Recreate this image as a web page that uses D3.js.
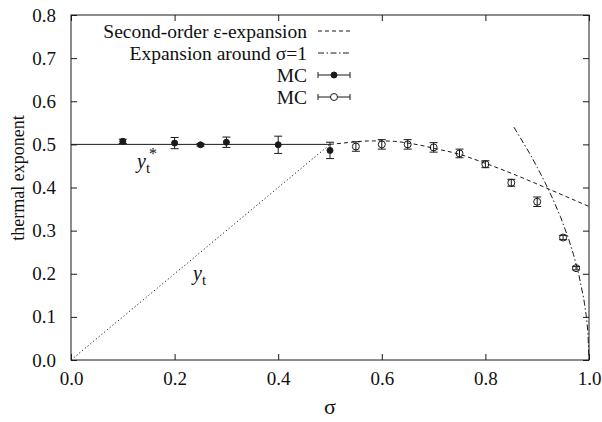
<!DOCTYPE html>
<html><head><meta charset="utf-8">
<script src="https://cdn.jsdelivr.net/npm/d3@7"></script>
<style>
body{margin:0;background:#fff;}
text{font-family:"Liberation Serif","Times New Roman",serif;fill:#111;}
</style></head>
<body><svg id="c" width="602" height="422"></svg>
<script>
// ---- data ----
const sigmaFilled = [0.1, 0.2, 0.25, 0.3, 0.4, 0.5];
const ytFilled    = [0.507, 0.503, 0.499, 0.505, 0.499, 0.486];
const errFilled   = [0.005, 0.013, 0.003, 0.012, 0.02, 0.019];

const sigmaOpen = [0.55, 0.6, 0.65, 0.7, 0.75, 0.8, 0.85, 0.9, 0.95, 0.975];
const ytOpen    = [0.495, 0.500, 0.500, 0.493, 0.479, 0.454, 0.411, 0.367, 0.284, 0.213];
const errOpen   = [0.011, 0.011, 0.011, 0.011, 0.01, 0.008, 0.008, 0.011, 0.005, 0.004];

const sigmaEps = [0.5, 0.525, 0.55, 0.575, 0.6, 0.625, 0.65, 0.675, 0.7, 0.75, 0.8, 0.85, 0.9, 0.95, 1.0];
const ytEps    = [0.5, 0.503, 0.506, 0.508, 0.508, 0.507, 0.503, 0.498, 0.491, 0.477, 0.456, 0.433, 0.408, 0.382, 0.356];

const sigmaOne = [0.855, 0.87, 0.885, 0.9, 0.915, 0.93, 0.945, 0.96, 0.97, 0.98, 0.99, 0.995, 0.998, 1.0];
const ytOne    = [0.54, 0.51, 0.48, 0.447, 0.412, 0.374, 0.332, 0.283, 0.245, 0.2, 0.141, 0.1, 0.063, 0.0];

const sigmaMF = [0, 0.5];
const ytMF    = [0, 0.5];
const sigmaStar = [0, 0.5];
const ytStar    = [0.5, 0.5];

const xTicks = [0, 0.2, 0.4, 0.6, 0.8, 1.0];
const yTicks = [0, 0.1, 0.2, 0.3, 0.4, 0.5, 0.6, 0.7, 0.8];
const legendLabels = ["Second-order \u03b5-expansion", "Expansion around \u03c3=1", "MC", "MC"];

// ---- layout ----
const FONT = '"Liberation Serif","Times New Roman",serif';
const L = 71, R = 589, T = 15, B = 360;
const svg = d3.select("#c");
const x = d3.scaleLinear().domain([0, 1]).range([L, R]);
const y = d3.scaleLinear().domain([0, 0.8]).range([B, T]);
const ink = "#1a1a1a";

// frame
svg.append("rect").attr("x", L).attr("y", T).attr("width", R - L).attr("height", B - T)
  .attr("fill", "none").attr("stroke", ink).attr("stroke-width", 1);

const fmt = d3.format(".1f");
const gx = svg.append("g").attr("transform", `translate(0,${B})`)
  .call(d3.axisBottom(x).tickValues(xTicks).tickFormat(fmt).tickSizeInner(-6).tickSizeOuter(0).tickPadding(12));
const gy = svg.append("g").attr("transform", `translate(${L},0)`)
  .call(d3.axisLeft(y).tickValues(yTicks).tickFormat(fmt).tickSizeInner(-6).tickSizeOuter(0).tickPadding(15));
const gt = svg.append("g").attr("transform", `translate(0,${T})`)
  .call(d3.axisTop(x).tickValues(xTicks).tickFormat("").tickSizeInner(-6).tickSizeOuter(0));
const gr = svg.append("g").attr("transform", `translate(${R},0)`)
  .call(d3.axisRight(y).tickValues(yTicks).tickFormat("").tickSizeInner(-6).tickSizeOuter(0));
[gx, gy, gt, gr].forEach(g => {
  g.attr("font-family", FONT);
  g.select(".domain").remove();
  g.selectAll(".tick line").attr("stroke", ink);
  g.selectAll(".tick text").style("font-size", "19px").attr("fill", "#111");
});

// axis titles
svg.append("text").attr("x", x(0.5)).attr("y", 414).attr("text-anchor", "middle")
  .style("font-size", "22px").text("\u03c3");
svg.append("text").attr("transform", `translate(24,178) rotate(-90)`)
  .attr("text-anchor", "middle").style("font-size", "18px").text("thermal exponent");

// lines
const line = d3.line().x(d => x(d[0])).y(d => y(d[1]));
const line2 = d3.line().curve(d3.curveMonotoneX).x(d => x(d[0])).y(d => y(d[1]));
const zip = (a, b) => a.map((v, i) => [v, b[i]]);

svg.append("path").attr("d", line(zip(sigmaStar, ytStar))).attr("fill", "none").attr("stroke", ink).attr("stroke-width", 1);
svg.append("path").attr("d", line(zip(sigmaMF, ytMF))).attr("fill", "none").attr("stroke", ink)
  .attr("stroke-width", 1).attr("stroke-dasharray", "1.2,2.4");
svg.append("path").attr("d", line2(zip(sigmaEps, ytEps))).attr("fill", "none").attr("stroke", ink)
  .attr("stroke-width", 1).attr("stroke-dasharray", "4,3");
svg.append("path").attr("d", line(zip(sigmaOne, ytOne))).attr("fill", "none").attr("stroke", ink)
  .attr("stroke-width", 1).attr("stroke-dasharray", "6,2.5,1.5,2.5");

// error bars + markers
function drawPoints(xs, ys, es, filled) {
  const g = svg.append("g");
  const d = xs.map((v, i) => ({ s: v, v: ys[i], e: es[i] }));
  const cap = 4;
  g.selectAll("path.eb").data(d).join("path")
    .attr("d", p => `M${x(p.s)},${y(p.v - p.e)}V${y(p.v + p.e)}M${x(p.s) - cap},${y(p.v - p.e)}H${x(p.s) + cap}M${x(p.s) - cap},${y(p.v + p.e)}H${x(p.s) + cap}`)
    .attr("stroke", ink).attr("stroke-width", 1).attr("fill", "none");
  g.selectAll("circle").data(d).join("circle")
    .attr("cx", p => x(p.s)).attr("cy", p => y(p.v)).attr("r", filled ? 3 : 3.5)
    .attr("fill", filled ? ink : "none").attr("stroke", ink).attr("stroke-width", 1);
}
drawPoints(sigmaFilled, ytFilled, errFilled, true);
drawPoints(sigmaOpen, ytOpen, errOpen, false);

// annotations
const ys = svg.append("text").attr("x", 137).attr("y", 168).style("font-size", "20px");
ys.append("tspan").style("font-style", "italic").text("y");
ys.append("tspan").attr("dy", 5).style("font-size", "15px").text("t");
ys.append("tspan").attr("dx", -1).attr("dy", -14).style("font-size", "16px").text("*");
const yt = svg.append("text").attr("x", 193).attr("y", 280).style("font-size", "20px");
yt.append("tspan").style("font-style", "italic").text("y");
yt.append("tspan").attr("dy", 5).style("font-size", "15px").text("t");

// legend
const legY = [31, 53, 75, 97];
const tx = 307, s0 = 318, s1 = 350;
legendLabels.forEach((lab, i) => {
  svg.append("text").attr("x", tx).attr("y", legY[i]).attr("dy", "0.35em").attr("text-anchor", "end")
    .style("font-size", "19.5px").text(lab);
});
svg.append("line").attr("x1", s0).attr("x2", s1).attr("y1", legY[0]).attr("y2", legY[0])
  .attr("stroke", ink).attr("stroke-dasharray", "4,3");
svg.append("line").attr("x1", s0).attr("x2", s1).attr("y1", legY[1]).attr("y2", legY[1])
  .attr("stroke", ink).attr("stroke-dasharray", "6,2.5,1.5,2.5");
[2, 3].forEach(i => {
  const yy = legY[i];
  svg.append("path").attr("d", `M${s0},${yy}H${s1}M${s0},${yy - 3}V${yy + 3}M${s1},${yy - 3}V${yy + 3}`)
    .attr("stroke", ink).attr("fill", "none");
  svg.append("circle").attr("cx", (s0 + s1) / 2).attr("cy", yy).attr("r", i === 2 ? 3 : 3.5)
    .attr("fill", i === 2 ? ink : "#fff").attr("stroke", ink);
});
svg.selectAll("text").style("font-family", FONT);
</script></body></html>
